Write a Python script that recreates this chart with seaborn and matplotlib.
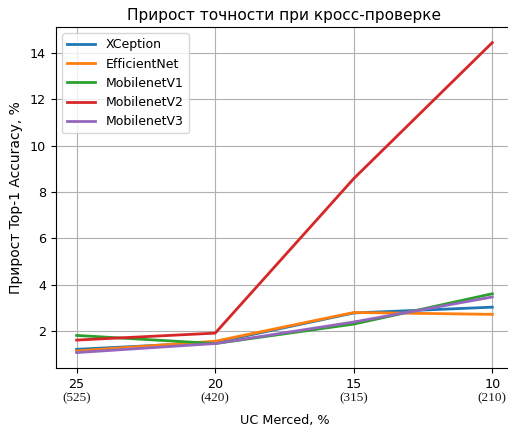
import matplotlib
matplotlib.use("Agg")
import matplotlib.pyplot as plt
import matplotlib.transforms as mtransforms
import pandas as pd
import seaborn as sns

# Share of UC Merced used for training, % (and the number of images)
train_pct = [25, 20, 15, 10]
train_imgs = ["(525)", "(420)", "(315)", "(210)"]

# Gain in Top-1 accuracy, %
xception = [1.21, 1.51, 2.78, 3.03]
efficientnet = [1.14, 1.56, 2.80, 2.72]
mobilenet_v1 = [1.81, 1.46, 2.30, 3.61]
mobilenet_v2 = [1.61, 1.91, 8.58, 14.45]
mobilenet_v3 = [1.07, 1.46, 2.39, 3.47]

models = ["XCeption", "EfficientNet", "MobilenetV1", "MobilenetV2", "MobilenetV3"]
series = [xception, efficientnet, mobilenet_v1, mobilenet_v2, mobilenet_v3]

rows = []
for name, vals in zip(models, series):
    for p, v in zip(train_pct, vals):
        rows.append({"model": name, "pct": p, "gain": v})
df = pd.DataFrame(rows)

fig = plt.figure(figsize=(5.08, 4.30), dpi=100)
ax = fig.add_axes([0.110, 0.144, 0.900, 0.793])

sns.lineplot(data=df, x="pct", y="gain", hue="model", hue_order=models,
             palette=sns.color_palette("tab10", 5), linewidth=2.0, ax=ax)

ax.invert_xaxis()
ax.set_xticks(train_pct)
ax.set_xticklabels([str(p) for p in train_pct], fontsize=9.2)
ax.tick_params(axis="y", labelsize=9.2)
ax.tick_params(axis="both", length=3.5, width=0.8, color="black")
ax.set_yticks([2, 4, 6, 8, 10, 12, 14])
ax.grid(True, color="#b0b0b0", linewidth=0.8)
for s in ax.spines.values():
    s.set_color("black")
    s.set_linewidth(0.8)

# Image counts under the percentage tick labels
trans = mtransforms.blended_transform_factory(ax.transData, ax.transAxes)
for p, lab in zip(train_pct, train_imgs):
    ax.text(p, -0.071, lab, transform=trans, ha="center", va="top",
            fontsize=9.5, family="Liberation Serif", color="#1a1a1a")

ax.set_title("Прирост точности при кросс-проверке", fontsize=11.1, pad=5)
ax.set_xlabel("UC Merced, %", fontsize=9.2, labelpad=17)
ax.set_ylabel("Прирост Top-1 Accuracy, %", fontsize=10, labelpad=5)

leg = ax.legend(loc="upper left", fontsize=9, frameon=True,
                handlelength=2.2, handletextpad=0.9)
leg.set_title(None)
for line in leg.get_lines():
    line.set_linewidth(2.0)

fig.savefig("out.png", dpi=100)
